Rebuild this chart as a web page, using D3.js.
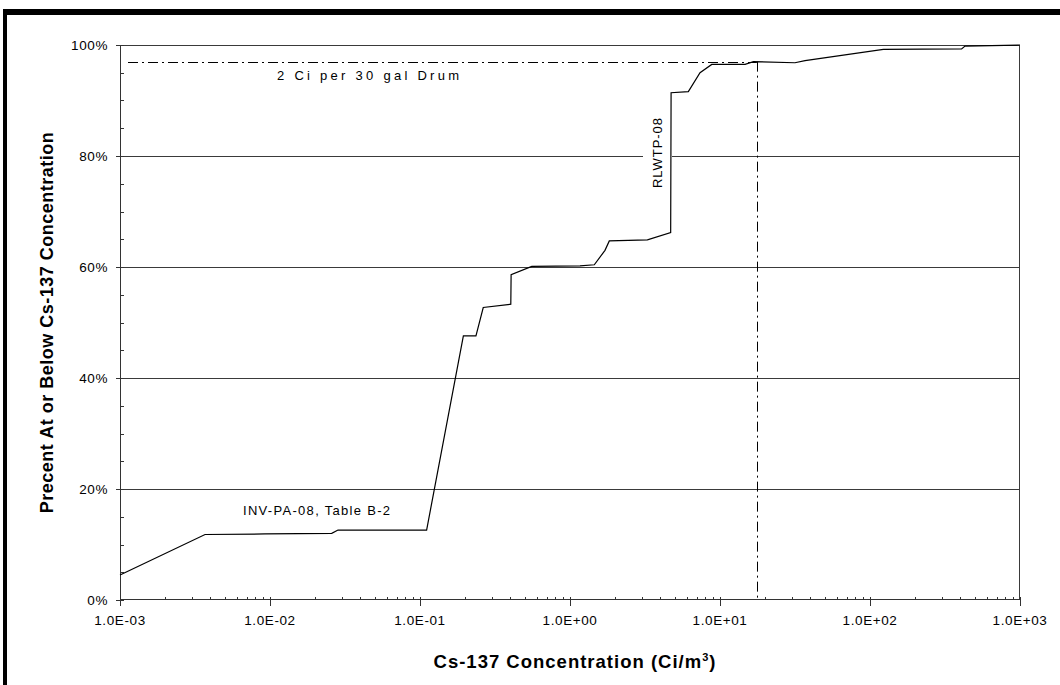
<!DOCTYPE html>
<html>
<head>
<meta charset="utf-8">
<script src="https://cdn.jsdelivr.net/npm/d3@7"></script>
<style>
  body { margin: 0; background: #fff; }
  svg text { font-family: "Liberation Sans", Arial, sans-serif; fill: #000; }
  line.crisp { shape-rendering: crispEdges; }
</style>
</head>
<body>
<svg id="chart" width="1060" height="685"></svg>
<script>
// Cs-137 concentration (Ci/m3) vs cumulative percent
var conc = [0.001, 0.00369, 0.00927, 0.0258, 0.0284, 0.1107, 0.1946, 0.236, 0.264, 0.403, 0.405,
            0.556, 1.166, 1.452, 1.711, 1.828, 3.28, 4.69, 4.72, 6.15, 7.36, 8.81, 14.7, 16.7,
            31.6, 36.9, 122.7, 408, 430, 1000];
var pct = [4.5, 11.8, 11.9, 12.0, 12.6, 12.6, 47.6, 47.6, 52.7, 53.3, 58.6,
           60.1, 60.2, 60.4, 63.0, 64.7, 64.9, 66.2, 91.4, 91.6, 95.0, 96.5, 96.5, 97.0,
           96.8, 97.2, 99.2, 99.3, 99.8, 100];

var xTicks = [1e-3, 1e-2, 1e-1, 1e0, 1e1, 1e2, 1e3];
var xTickLabels = ["1.0E-03", "1.0E-02", "1.0E-01", "1.0E+00", "1.0E+01", "1.0E+02", "1.0E+03"];
var yTicks = [0, 20, 40, 60, 80, 100];

var drumLimit = 17.6;   // 2 Ci per 30 gal drum
var drumPct = 97;

var svg = d3.select("#chart"),
    margin = { top: 45, right: 40, bottom: 85, left: 120 },
    width = +svg.attr("width") - margin.left - margin.right,
    height = +svg.attr("height") - margin.top - margin.bottom;

// page frame (top and left edges only visible)
svg.append("rect").attr("x", 3).attr("y", 9).attr("width", 1057).attr("height", 6).attr("fill", "#000");
svg.append("rect").attr("x", 3).attr("y", 9).attr("width", 4).attr("height", 676).attr("fill", "#000");

var x = d3.scaleLog().domain([1e-3, 1e3]).range([0, width]),
    y = d3.scaleLinear().domain([0, 100]).range([height, 0]);

var g = svg.append("g")
    .attr("transform", "translate(" + margin.left + "," + margin.top + ")");

// gridlines
g.selectAll(".grid")
    .data(yTicks.filter(function (d) { return d > 0 && d < 100; }))
    .enter().append("line")
    .attr("class", "crisp")
    .attr("x1", 0).attr("x2", width)
    .attr("y1", function (d) { return Math.round(y(d)) + 0.5; })
    .attr("y2", function (d) { return Math.round(y(d)) + 0.5; })
    .attr("stroke", "#3a3a3a").attr("stroke-width", 1);

// plot border top/right
g.append("line").attr("class", "crisp").attr("x1", 0).attr("x2", width).attr("y1", 0.5).attr("y2", 0.5)
    .attr("stroke", "#3a3a3a");
g.append("line").attr("class", "crisp").attr("x1", width - 0.5).attr("x2", width - 0.5).attr("y1", 0).attr("y2", height)
    .attr("stroke", "#3a3a3a");

// y axis
var yMinor = d3.range(0, 101, 5);
g.selectAll(".ymin").data(yMinor).enter().append("line")
    .attr("class", "crisp")
    .attr("x1", 0).attr("x2", 4)
    .attr("y1", function (d) { return Math.round(y(d)) + 0.5; })
    .attr("y2", function (d) { return Math.round(y(d)) + 0.5; })
    .attr("stroke", "#333");
g.selectAll(".ymaj").data(yTicks).enter().append("line")
    .attr("class", "crisp")
    .attr("x1", -4).attr("x2", 0)
    .attr("y1", function (d) { return Math.round(y(d)) + 0.5; })
    .attr("y2", function (d) { return Math.round(y(d)) + 0.5; })
    .attr("stroke", "#333");
g.selectAll(".ylab").data(yTicks).enter().append("text")
    .attr("x", -12)
    .attr("y", function (d) { return y(d); })
    .attr("dy", "0.35em")
    .attr("text-anchor", "end")
    .style("font-size", "13.5px")
    .style("letter-spacing", "0.6px")
    .text(function (d) { return d + "%"; });
g.append("line").attr("class", "crisp").attr("x1", 0.5).attr("x2", 0.5).attr("y1", 0).attr("y2", height + 3)
    .attr("stroke", "#333");

// x axis
var xMinor = [];
xTicks.slice(0, -1).forEach(function (t) {
    for (var k = 2; k <= 9; k++) xMinor.push(t * k);
});
g.append("line").attr("class", "crisp").attr("x1", 0).attr("x2", width).attr("y1", height - 0.5).attr("y2", height - 0.5)
    .attr("stroke", "#333");
g.selectAll(".xmin").data(xMinor).enter().append("line")
    .attr("class", "crisp")
    .attr("x1", function (d) { return Math.round(x(d)) + 0.5; })
    .attr("x2", function (d) { return Math.round(x(d)) + 0.5; })
    .attr("y1", height - 3).attr("y2", height)
    .attr("stroke", "#333");
g.selectAll(".xmaj").data(xTicks).enter().append("line")
    .attr("class", "crisp")
    .attr("x1", function (d) { return Math.round(x(d)) + 0.5; })
    .attr("x2", function (d) { return Math.round(x(d)) + 0.5; })
    .attr("y1", height - 3).attr("y2", height + 6)
    .attr("stroke", "#333");
g.selectAll(".xlab").data(xTicks).enter().append("text")
    .attr("x", function (d) { return x(d); })
    .attr("y", height + 25)
    .attr("text-anchor", "middle")
    .style("font-size", "13.5px")
    .style("letter-spacing", "0.6px")
    .text(function (d, i) { return xTickLabels[i]; });

// 2 Ci per drum reference lines
g.append("line")
    .attr("x1", 8).attr("x2", x(drumLimit))
    .attr("y1", Math.round(y(drumPct)) + 0.5).attr("y2", Math.round(y(drumPct)) + 0.5)
    .attr("stroke", "#000").attr("stroke-dasharray", "10,4,2,4");
g.append("line")
    .attr("x1", Math.round(x(drumLimit)) + 0.5).attr("x2", Math.round(x(drumLimit)) + 0.5)
    .attr("y1", y(drumPct)).attr("y2", height)
    .attr("stroke", "#000").attr("stroke-dasharray", "10,4,2,4");

// annotations
g.append("text")
    .attr("x", 157).attr("y", 35)
    .attr("textLength", 182).attr("lengthAdjust", "spacing")
    .style("font-size", "13px")
    .text("2 Ci per 30 gal Drum");

g.append("text")
    .attr("x", 123).attr("y", 470)
    .attr("textLength", 147).attr("lengthAdjust", "spacing")
    .style("font-size", "13px")
    .text("INV-PA-08, Table B-2");

var rl = g.append("g").attr("transform", "translate(" + 537 + "," + 108 + ") rotate(-90)");
rl.append("rect").attr("x", -36).attr("y", -14).attr("width", 72).attr("height", 29).attr("fill", "#fff");
rl.append("text")
    .attr("text-anchor", "middle")
    .attr("y", 5)
    .attr("textLength", 70).attr("lengthAdjust", "spacing")
    .style("font-size", "13px")
    .text("RLWTP-08");

// cumulative curve (drawn over the label box)
var line = d3.line()
    .x(function (d) { return x(d[0]); })
    .y(function (d) { return y(d[1]); });

g.append("path")
    .datum(d3.zip(conc, pct))
    .attr("fill", "none")
    .attr("stroke", "#000")
    .attr("stroke-width", 1.2)
    .attr("d", line);

// axis titles
svg.append("text")
    .attr("x", 575).attr("y", 668)
    .attr("text-anchor", "middle")
    .style("font-size", "18.5px")
    .style("font-weight", "bold")
    .style("letter-spacing", "1px")
    .html("Cs-137 Concentration (Ci/m<tspan dy='-7' style='font-size:11px'>3</tspan><tspan dy='7'>)</tspan>");

svg.append("text")
    .attr("transform", "translate(53," + (margin.top + height / 2) + ") rotate(-90)")
    .attr("text-anchor", "middle")
    .style("font-size", "18px")
    .style("font-weight", "bold")
    .style("letter-spacing", "0.5px")
    .text("Precent At or Below Cs-137 Concentration");
</script>
</body>
</html>
